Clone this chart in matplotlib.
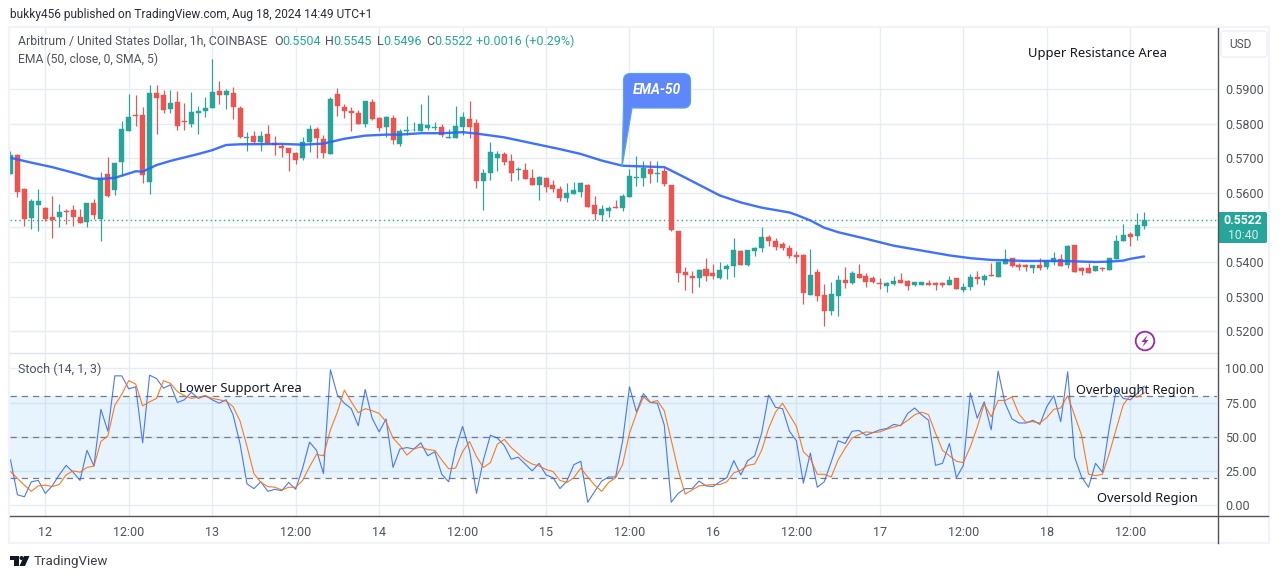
import matplotlib
matplotlib.use("Agg")
import matplotlib.pyplot as plt
from matplotlib.patches import FancyBboxPatch, Polygon, PathPatch, Circle
from matplotlib.path import Path

W, H = 1281, 579
plt.rcParams["font.family"] = ["Roboto", "DejaVu Sans"]

# OHLC, one per hourly candle
opens = [.5653, .5708, .5612, .5526, .5566, .5555, .5529, .5529, .5548, .5549, .5529, .5515, .5571, .5523, .5653, .5607,
         .5688, .5778, .5826, .5826, .5631, .5887, .5881, .5843, .5861, .5806, .5800, .5829, .5835, .5844, .5895, .5881,
         .5887, .5845, .5758, .5765, .5747, .5771, .5744, .5734, .5728, .5716, .5699, .5747, .5783, .5756, .5713, .5884,
         .5849, .5837, .5829, .5800, .5863, .5816, .5791, .5816, .5742, .5779, .5780, .5777, .5788, .5788, .5791, .5757,
         .5757, .5791, .5814, .5802, .5635, .5657, .5701, .5713, .5692, .5666, .5666, .5643, .5623, .5643, .5623, .5611,
         .5585, .5597, .5602, .5623, .5565, .5536, .5547, .5559, .5556, .5588, .5644, .5643, .5669, .5655, .5663, .5623,
         .5489, .5371, .5359, .5353, .5379, .5368, .5353, .5379, .5388, .5431, .5391, .5431, .5440, .5472, .5460, .5452,
         .5440, .5420, .5420, .5305, .5371, .5305, .5259, .5302, .5348, .5339, .5365, .5360, .5354, .5339, .5331, .5337,
         .5348, .5345, .5334, .5334, .5339, .5339, .5339, .5334, .5354, .5319, .5328, .5357, .5348, .5363, .5357, .5394,
         .5412, .5391, .5391, .5383, .5391, .5386, .5400, .5409, .5391, .5449, .5383, .5383, .5374, .5383, .5377, .5409,
         .5461, .5481, .5475, .5504]
highs = [.5722, .5713, .5614, .5581, .5612, .5560, .5590, .5568, .5552, .5566, .5554, .5569, .5581, .5660, .5702, .5687,
         .5807, .5884, .5881, .5848, .5910, .5912, .5898, .5898, .5895, .5860, .5891, .5850, .5877, .5985, .5924, .5900,
         .5906, .5850, .5775, .5777, .5778, .5797, .5765, .5741, .5730, .5718, .5761, .5797, .5790, .5768, .5876, .5904,
         .5855, .5848, .5838, .5866, .5871, .5818, .5823, .5826, .5785, .5821, .5803, .5855, .5881, .5803, .5800, .5785,
         .5852, .5832, .5866, .5814, .5669, .5746, .5721, .5718, .5713, .5675, .5686, .5669, .5649, .5646, .5637, .5620,
         .5628, .5631, .5631, .5626, .5591, .5565, .5562, .5579, .5597, .5669, .5707, .5692, .5692, .5692, .5672, .5623,
         .5489, .5385, .5373, .5379, .5411, .5394, .5400, .5394, .5469, .5434, .5434, .5443, .5501, .5478, .5469, .5457,
         .5449, .5431, .5423, .5438, .5380, .5337, .5342, .5363, .5386, .5374, .5395, .5369, .5360, .5354, .5342, .5360,
         .5369, .5348, .5342, .5342, .5348, .5342, .5342, .5360, .5354, .5339, .5365, .5374, .5365, .5397, .5403, .5438,
         .5412, .5397, .5395, .5391, .5412, .5406, .5429, .5423, .5449, .5449, .5385, .5397, .5388, .5385, .5412, .5478,
         .5510, .5487, .5541, .5545]
lows = [.5653, .5588, .5504, .5494, .5489, .5518, .5468, .5501, .5509, .5504, .5512, .5500, .5523, .5461, .5588, .5593,
        .5648, .5777, .5794, .5627, .5595, .5770, .5829, .5831, .5781, .5781, .5791, .5771, .5818, .5844, .5857, .5843,
        .5812, .5759, .5722, .5744, .5722, .5742, .5708, .5703, .5664, .5682, .5696, .5717, .5701, .5701, .5711, .5821,
        .5816, .5778, .5800, .5790, .5809, .5778, .5762, .5742, .5736, .5768, .5779, .5777, .5782, .5782, .5760, .5757,
        .5757, .5766, .5757, .5614, .5550, .5637, .5663, .5681, .5634, .5637, .5640, .5623, .5579, .5602, .5602, .5576,
        .5573, .5597, .5588, .5559, .5521, .5519, .5530, .5556, .5547, .5588, .5620, .5620, .5628, .5631, .5620, .5489,
        .5342, .5318, .5310, .5327, .5344, .5350, .5350, .5350, .5356, .5391, .5388, .5417, .5428, .5446, .5434, .5434,
        .5411, .5397, .5279, .5305, .5288, .5215, .5247, .5244, .5325, .5337, .5354, .5328, .5339, .5322, .5313, .5334,
        .5339, .5319, .5331, .5334, .5334, .5319, .5328, .5334, .5322, .5313, .5319, .5337, .5334, .5360, .5357, .5394,
        .5386, .5377, .5374, .5369, .5377, .5380, .5391, .5388, .5383, .5371, .5363, .5368, .5374, .5374, .5377, .5409,
        .5461, .5446, .5463, .5496]
closes = [.5708, .5603, .5523, .5575, .5576, .5523, .5521, .5543, .5544, .5529, .5512, .5569, .5537, .5643, .5592, .5687,
          .5783, .5820, .5823, .5650, .5887, .5873, .5840, .5858, .5792, .5804, .5832, .5837, .5846, .5891, .5881, .5895,
          .5847, .5761, .5761, .5747, .5765, .5744, .5737, .5730, .5714, .5696, .5747, .5783, .5757, .5716, .5872, .5852,
          .5837, .5829, .5800, .5866, .5812, .5788, .5820, .5751, .5779, .5782, .5782, .5800, .5797, .5791, .5766, .5760,
          .5794, .5820, .5791, .5635, .5657, .5718, .5713, .5689, .5657, .5669, .5640, .5623, .5646, .5617, .5611, .5585,
          .5599, .5608, .5628, .5559, .5539, .5553, .5556, .5556, .5591, .5649, .5646, .5672, .5655, .5657, .5626, .5492,
          .5368, .5362, .5353, .5376, .5359, .5359, .5376, .5388, .5434, .5391, .5434, .5440, .5472, .5460, .5443, .5440,
          .5417, .5414, .5311, .5363, .5302, .5259, .5308, .5348, .5339, .5368, .5354, .5342, .5342, .5337, .5339, .5345,
          .5339, .5331, .5342, .5342, .5334, .5334, .5334, .5348, .5322, .5328, .5357, .5351, .5360, .5360, .5400, .5409,
          .5388, .5386, .5386, .5391, .5383, .5403, .5412, .5388, .5446, .5371, .5374, .5368, .5388, .5380, .5412, .5461,
          .5478, .5472, .5507, .5522]

# EMA-50 as seen on the chart, candle number and price
ema_idx = [0, 3, 6, 9, 12, 13, 15, 18, 19, 21, 23, 27, 29, 31, 33, 39, 42, 45, 48, 51, 54, 56, 59, 62, 65, 67, 71, 75,
           79, 82, 85, 88, 91, 94, 96, 99, 102, 105, 108, 112, 113, 115, 117, 119, 123, 127, 131, 135, 138, 141, 146,
           151, 156, 158, 160, 161, 163]
ema_val = [.5701, .5687, .5674, .5658, .5641, .5640, .5643, .5662, .5661, .5680, .5692, .5712, .5723, .5738, .5740,
           .5741, .5739, .5742, .5756, .5765, .5768, .5768, .5772, .5772, .5775, .5771, .5760, .5743, .5726, .5712,
           .5693, .5678, .5676, .5674, .5654, .5623, .5592, .5572, .5557, .5543, .5536, .5520, .5499, .5486, .5467,
           .5447, .5433, .5419, .5411, .5406, .5403, .5403, .5400, .5401, .5404, .5409, .5416]

stoch_k = [33, 7.5, 6, 17, 18, 8.5, 14, 22, 29, 24, 18, 40, 28.5, 70, 54, 94.5, 94.5, 85, 86.5, 45.5, 95, 92.5, 85.5,
           88, 75, 77, 82.5, 78, 80, 77, 74.5, 77, 66, 45, 15.5, 12, 17, 10, 11.5, 10.5, 16.5, 11.5, 27, 46, 40, 23,
           99, 80.5, 74.5, 70.5, 58, 84.5, 63.5, 53.5, 63, 27.5, 41, 42, 41,
           45.5, 36, 39, 22.5, 17, 41, 57.5, 40, 8.5, 33, 51, 49, 43.5, 33.5, 35, 30, 25, 30.5, 22, 20, 12, 17.5, 29.5,
           32, 2, 10, 17.5, 20.5, 20.5, 46.5, 86.5, 68, 81.5, 75, 74.5, 58.5, 2, 8.5, 12, 12, 17.5, 14, 13.5, 17, 20,
           32.5, 22, 32.5, 36, 52.5, 80.5, 71.5, 70.5, 54, 47, 16, 38, 13, 17, 31.5, 47,
           45, 54, 54.5, 51, 53, 55, 56, 59, 58, 67, 71, 66, 62, 29, 30.5, 45, 20, 29, 82, 63.5, 75.5, 55, 98, 74.5,
           63, 60, 60, 62, 59, 72, 80, 61, 97.5, 35, 20.5, 13, 30.5, 24, 57, 84.5, 78, 77, 81.5, 87]
stoch_d = [24.5, 19.5, 14.5, 10, 14, 14.5, 13.5, 15, 22, 25, 24, 27.5, 28.5, 46.5, 50.5, 73, 81, 91, 88.5, 72.5, 75.5,
           78, 91, 89, 83, 80, 78, 79, 80, 78, 77, 76, 72, 61.5, 43, 23, 16.5, 13.5, 13, 11, 13, 13, 18, 28, 37, 36,
           55, 68, 84, 75.5, 67.5, 70.5, 69, 67, 61, 49, 43.5, 36.5, 41,
           42.5, 40.5, 40, 33, 26.5, 27, 39, 46.5, 35.5, 27.5, 31, 44.5, 48, 42, 37.5, 33, 30, 28.5, 26, 24.5, 18, 16.5,
           20, 27, 20.5, 14.5, 10, 16.5, 20, 29.5, 52.5, 67, 79, 75, 76.5, 69, 47.5, 25.5, 8, 11, 14, 14.5, 15, 15, 17,
           23.5, 25.5, 29, 30, 40, 56, 68, 74.5, 66, 57.5, 39, 34, 22.5, 22.5, 20.5, 33,
           41.5, 49, 51.5, 53.5, 53, 53.5, 55.5, 57, 58.5, 62, 66, 68, 66, 52.5, 40, 36, 32, 31, 42.5, 57, 74, 64.5,
           76.5, 76.5, 79, 66.5, 60.5, 61, 60, 64, 70, 71, 80, 65.5, 51, 22.5, 21.5, 22.5, 38, 56, 73.5, 80, 79, 82]

last_price = 0.5522
price_ticks = [.52, .53, .54, .55, .56, .57, .58, .59]
# 0.5500 sits behind the last price tag in the original
price_labels = ["0.5200", "0.5300", "0.5400", "", "0.5600", "0.5700", "0.5800", "0.5900"]
stoch_ticks = [0, 25, 50, 75, 100]
time_idx = [5, 17, 29, 41, 53, 65, 77, 89, 101, 113, 125, 137, 149, 161]
time_labels = ["12", "12:00", "13", "12:00", "14", "12:00", "15", "12:00", "16", "12:00", "17", "12:00", "18", "12:00"]

UP = "#26a69a"
DOWN = "#ef5350"
GRID = "#e5edf3"
TXT = "#131722"
GREY = "#50535e"


def pane(top, bottom):
    # pixel box -> axes position
    return [10 / W, 1 - bottom / H, 1207 / W, (bottom - top) / H]


fig = plt.figure(figsize=(W / 100, H / 100), dpi=100, facecolor="white")
ax = fig.add_axes(pane(28, 353))
ax2 = fig.add_axes(pane(354, 516))

xlim = (-0.07, 173.47)
for a in (ax, ax2):
    a.set_xlim(*xlim)
    a.set_xticks(time_idx)
    a.grid(True, color=GRID, lw=1)
    a.set_axisbelow(True)
    for s in a.spines.values():
        s.set_visible(False)
    a.yaxis.tick_right()
    a.tick_params(length=0, labelsize=9, labelcolor=GREY, pad=0)

ax.set_ylim(0.5137, 0.6076)
ax.set_yticks(price_ticks)
ax.set_yticklabels(price_labels)
ax.tick_params(axis="y", pad=6)
ax.tick_params(axis="x", labelbottom=False)

# candles
xs = list(range(len(opens)))
cols = [UP if c >= o else DOWN for o, c in zip(opens, closes)]
ax.vlines(xs, lows, highs, colors=cols, lw=0.85, zorder=2)
ax.bar(xs, [c - o for o, c in zip(opens, closes)], bottom=opens, width=0.72, color=cols, edgecolor=cols, lw=0.3,
       zorder=3)
ax.plot(ema_idx, ema_val, color="#2962ff", lw=1.7, alpha=0.9, zorder=4, solid_capstyle="round")
ax.axhline(last_price, color=UP, lw=1, ls=(0, (1, 2.2)), zorder=1.5)

# stochastic pane
ax2.set_ylim(-8.05, 110.5)
ax2.set_yticks(stoch_ticks)
ax2.set_yticklabels(["%.2f" % v for v in stoch_ticks])
ax2.tick_params(axis="y", pad=6)
ax2.set_xticklabels(time_labels)
ax2.tick_params(axis="x", pad=7)
ax2.axhspan(20, 80, color="#2196f3", alpha=0.1, lw=0)
for lev in (20, 50, 80):
    ax2.axhline(lev, color="#787b86", lw=0.9, ls=(0, (5, 4)))
ax2.plot(xs, stoch_k, color="#2962ff", lw=0.8, alpha=0.85, zorder=3)
ax2.plot(xs, stoch_d, color="#ff6d00", lw=0.8, alpha=0.9, zorder=4)

# overlay in pixel coords for frame, labels and badges
ov = fig.add_axes([0, 0, 1, 1], facecolor="none", zorder=10)
ov.set_xlim(0, W)
ov.set_ylim(H, 0)
ov.axis("off")

ov.add_patch(FancyBboxPatch((9, 27), 1260, 516, boxstyle="square,pad=0", fc="none", ec="#f0f3fa", lw=1.6))
ov.plot([10, 1217], [353, 353], color="#e0e3eb", lw=1)
ov.plot([10, 1268], [516, 516], color=GREY, lw=1)
ov.plot([1217.5, 1217.5], [28, 543], color=GREY, lw=1)


def t(x, y, s, **kw):
    kw.setdefault("color", TXT)
    kw.setdefault("fontsize", 8.8)
    kw.setdefault("va", "center")
    ov.text(x, y, s, **kw)


t(10, 14.5, "bukky456 published on TradingView.com, Aug 18, 2024 14:49 UTC+1", color="#2a2e39", fontsize=8.6)
t(18, 41.5, "Arbitrum / United States Dollar, 1h, COINBASE", color=GREY)
t(18, 59, "EMA (50, close, 0, SMA, 5)", color=GREY, fontsize=8.7)
t(18, 369, "Stoch (14, 1, 3)", color=GREY, fontsize=9)
for x, s in [(274, "O"), (325.3, "H"), (376.7, "L"), (426, "C")]:
    t(x, 41.5, s, color=GREY, fontsize=9)
for x, s in [(282.3, "0.5504"), (333, "0.5545"), (383, "0.5496"), (434, "0.5522"), (476, "+0.0016 (+0.29%)")]:
    t(x, 41.5, s, color=UP, fontsize=9)

NOTE = ["Noto Sans", "DejaVu Sans"]
t(1028, 53.5, "Upper Resistance Area", fontsize=9.4, family=NOTE)
t(179, 388.5, "Lower Support Area", fontsize=9.4, family=NOTE)
t(1076, 390.5, "Overbought Region", fontsize=9.2, family=NOTE)
t(1097, 498.5, "Oversold Region", fontsize=9.3, family=NOTE)

# callout, rounded box with a tail down to the EMA
bx0, bx1, by0, by1, rr = 623.5, 690.5, 73.5, 108, 7
verts = [(bx0 + rr, by0), (bx1 - rr, by0), (bx1, by0), (bx1, by0 + rr), (bx1, by1 - rr), (bx1, by1), (bx1 - rr, by1),
         (632, by1), (622, 167), (bx0, by1 - 2), (bx0, by0 + rr), (bx0, by0), (bx0 + rr, by0), (bx0 + rr, by0)]
codes = [Path.MOVETO, Path.LINETO, Path.CURVE3, Path.CURVE3, Path.LINETO, Path.CURVE3, Path.CURVE3, Path.LINETO,
         Path.LINETO, Path.LINETO, Path.LINETO, Path.CURVE3, Path.CURVE3, Path.CLOSEPOLY]
ov.add_patch(PathPatch(Path(verts, codes), fc="#5d87fb", ec="#5aa7d6", lw=0.9))
t(657, 90.5, "EMA-50", color="white", fontsize=9.8, style="italic", weight="bold", ha="center")

# USD button and last price tag
ov.add_patch(FancyBboxPatch((1221, 31), 46, 26, boxstyle="round,pad=0,rounding_size=4", fc="white", ec="#eceff5",
                            lw=1))
t(1240, 44.5, "USD", color=GREY, ha="center", fontsize=8.6)
ov.add_patch(FancyBboxPatch((1218, 212), 49, 31, boxstyle="round,pad=0,rounding_size=2", fc=UP, ec="none"))
t(1243, 220, "0.5522", color="white", weight="bold", ha="center", fontsize=8.8)
t(1243, 235.5, "10:40", color="#d6efec", ha="center", fontsize=8.8)

# bolt badge
ov.add_patch(Circle((1145, 341), 9.3, fc="white", ec="#9c27b0", lw=1.3))
ov.add_patch(Polygon([(1147.5, 335), (1141.5, 342), (1144.7, 342), (1142.5, 347), (1148.5, 340), (1145.3, 340)],
                     closed=True, fc="#9c27b0", ec="none"))

# TradingView logo
ov.add_patch(Polygon([(10, 556), (19, 556), (19, 566), (14, 566), (14, 560), (10, 560)], closed=True, fc=TXT, ec="none"))
ov.add_patch(Circle((21.5, 558), 2, fc=TXT, ec="none"))
ov.add_patch(Polygon([(24, 556), (29.5, 556), (25, 566), (19.5, 566)], closed=True, fc=TXT, ec="none"))
t(33.5, 561.5, "TradingView", color="#3b3f4a", fontsize=9.6)

fig.savefig("out.png", dpi=100)
